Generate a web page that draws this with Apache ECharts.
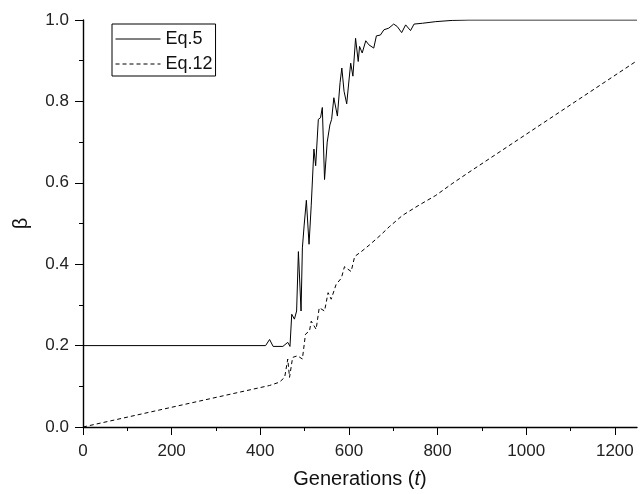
<!DOCTYPE html>
<html>
<head>
<meta charset="utf-8">
<script src="https://cdn.jsdelivr.net/npm/echarts@6/dist/echarts.min.js"></script>
<style>
  html, body { margin: 0; padding: 0; background: #fff; }
  #chart { width: 642px; height: 494px; }
</style>
</head>
<body>
<div id="chart"></div>
<script>
// data
var eq5 = [
  [0, 0.2], [412, 0.2], [421, 0.215], [429, 0.198], [451, 0.198], [462, 0.208],
  [467, 0.198], [471, 0.277], [477, 0.265], [482, 0.285], [486, 0.431], [492, 0.285],
  [495, 0.44], [499, 0.496], [504, 0.557], [510, 0.449], [515, 0.545], [521, 0.683],
  [525, 0.642], [531, 0.756], [536, 0.76], [540, 0.785], [545, 0.608], [551, 0.7],
  [557, 0.742], [561, 0.756], [566, 0.809], [574, 0.764], [580, 0.846], [584, 0.882],
  [589, 0.825], [595, 0.794], [600, 0.85], [604, 0.894], [609, 0.862], [615, 0.955],
  [621, 0.898], [624, 0.935], [630, 0.919], [638, 0.949], [645, 0.939], [656, 0.931],
  [662, 0.961], [671, 0.963], [679, 0.976], [690, 0.98], [701, 0.99], [709, 0.984],
  [719, 0.969], [728, 0.988], [739, 0.974], [747, 0.99], [766, 0.992], [796, 0.996],
  [833, 0.999], [871, 1.0], [1250, 1.0]
];
var eq12 = [
  [0, 0], [421, 0.102], [443, 0.11], [455, 0.122], [462, 0.167], [466, 0.122],
  [473, 0.171], [484, 0.175], [495, 0.167], [502, 0.228], [511, 0.236], [515, 0.26],
  [526, 0.24], [533, 0.293], [545, 0.285], [553, 0.33], [560, 0.314], [571, 0.35],
  [583, 0.366], [590, 0.394], [605, 0.382], [613, 0.419], [628, 0.431], [646, 0.447],
  [672, 0.472], [691, 0.492], [721, 0.52], [758, 0.545], [796, 0.569], [833, 0.598],
  [871, 0.626], [1250, 0.9]
];
var xMajor = [0, 200, 400, 600, 800, 1000, 1200];
var xMinor = [100, 300, 500, 700, 900, 1100];

var font = 'Liberation Sans, Arial, sans-serif';
var myChart = echarts.init(document.getElementById('chart'));

var option = {
  animation: false,
  backgroundColor: '#fff',
  grid: { left: 83, right: 5, top: 20, bottom: 62 },
  legend: {
    orient: 'vertical',
    left: 112,
    top: 24,
    borderColor: '#000',
    borderWidth: 1,
    padding: [6, 3, 3, 3],
    itemGap: 7,
    itemWidth: 45,
    itemHeight: 14,
    itemStyle: { opacity: 0 },
    lineStyle: { width: 1 },
    textStyle: { fontFamily: font, fontSize: 18, lineHeight: 16, color: '#111' },
    data: ['Eq.5', 'Eq.12']
  },
  xAxis: [{
    type: 'value',
    min: 0,
    max: 1250,
    name: 'Generations ({i|t})',
    nameLocation: 'middle',
    nameGap: 42,
    nameTextStyle: {
      fontFamily: font, fontSize: 20, color: '#111',
      rich: { i: { fontFamily: font, fontSize: 20, fontStyle: 'italic', color: '#111' } }
    },
    axisLine: { lineStyle: { color: '#000', width: 1.4 } },
    axisTick: { length: 8, lineStyle: { color: '#000' }, customValues: xMajor },
    axisLabel: {
      fontFamily: font, fontSize: 17, color: '#222', margin: 16, customValues: xMajor,
      formatter: function (v) { return String(v); }
    },
    splitLine: { show: false }
  }, {
    type: 'value',
    position: 'bottom',
    min: 0,
    max: 1250,
    axisLine: { show: false },
    axisTick: { length: 4, lineStyle: { color: '#000' }, customValues: xMinor },
    axisLabel: { show: false },
    splitLine: { show: false }
  }],
  yAxis: {
    type: 'value',
    min: 0,
    max: 1,
    interval: 0.2,
    name: 'β',
    nameLocation: 'middle',
    nameGap: 52,
    nameTextStyle: { fontFamily: font, fontSize: 20, color: '#111' },
    axisLine: { show: true, lineStyle: { color: '#000', width: 1.4 } },
    axisTick: { show: true, length: 8, lineStyle: { color: '#000' } },
    minorTick: { show: true, splitNumber: 2, length: 4, lineStyle: { color: '#000' } },
    axisLabel: {
      fontFamily: font, fontSize: 17, color: '#222', margin: 14,
      formatter: function (v) { return v.toFixed(1); }
    },
    splitLine: { show: false }
  },
  series: [{
    name: 'Eq.5',
    type: 'line',
    data: eq5,
    symbol: 'none',
    lineStyle: { color: '#000', width: 1 },
    itemStyle: { color: '#000' }
  }, {
    name: 'Eq.12',
    type: 'line',
    data: eq12,
    symbol: 'none',
    lineStyle: { color: '#000', width: 1, type: [4, 3] },
    itemStyle: { color: '#000' }
  }]
};
myChart.setOption(option);
</script>
</body>
</html>
